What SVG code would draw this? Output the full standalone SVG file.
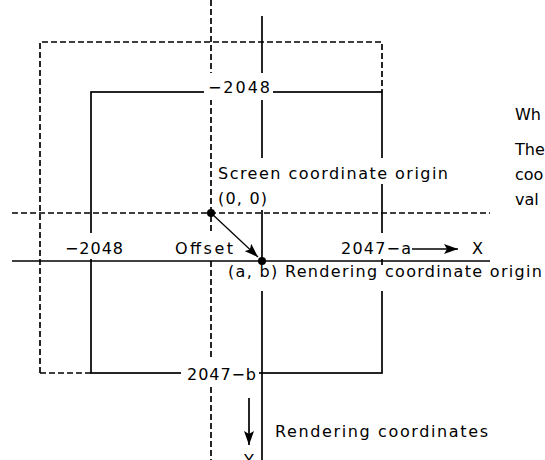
<svg xmlns="http://www.w3.org/2000/svg" width="545" height="460" viewBox="0 0 545 460">
  <style>
    .solid { stroke: #000; stroke-width: 1.7; fill: none; }
    .dash { stroke: #000; stroke-width: 1.7; fill: none; stroke-dasharray: 6 3; }
    .mask { fill: #fff; stroke: none; }
    text { font-family: "DejaVu Sans", "Liberation Sans", sans-serif; font-size: 16px; fill: #000; }
    .thin { stroke: #000; stroke-width: 1.3; fill: none; }
  </style>
  <defs>
    <marker id="head" viewBox="0 0 14 10" refX="14" refY="5" markerWidth="14" markerHeight="10" markerUnits="userSpaceOnUse" orient="auto">
      <path d="M0,0 L14,5 L0,10 L3,5 Z" fill="#000"/>
    </marker>
  </defs>
  <rect width="545" height="460" fill="#fff"/>

  <!-- screen coordinate frame (dashed) -->
  <g id="screen-frame">
    <path class="dash" d="M40,373 V42 H382 V92"/>
    <path class="dash" d="M40,373 H91"/>
    <path class="dash" d="M211,0 V460"/>
    <path class="dash" d="M12,213 H490"/>
  </g>

  <!-- rendering coordinate frame (solid) -->
  <g id="render-frame">
    <rect class="solid" x="91" y="92" width="291" height="281"/>
    <path class="solid" d="M262,16 V460"/>
    <path class="solid" d="M12,261 H490"/>
  </g>

  <!-- label backgrounds that break the lines -->
  <g id="label-masks">
    <rect class="mask" x="204" y="73" width="69" height="27"/>
    <rect class="mask" x="216" y="158" width="234" height="26"/>
    <rect class="mask" x="216" y="184" width="53" height="26"/>
    <rect class="mask" x="60" y="233" width="68" height="26"/>
    <rect class="mask" x="172" y="233" width="64" height="26"/>
    <rect class="mask" x="338" y="233" width="76" height="26"/>
    <rect class="mask" x="226" y="265" width="319" height="26"/>
    <rect class="mask" x="181" y="360" width="78" height="26"/>
  </g>

  <g id="top-limit"><text x="208" y="93" textLength="62" lengthAdjust="spacing">−2048</text></g>
  <g id="screen-origin">
    <text x="218" y="179" textLength="230" lengthAdjust="spacing">Screen coordinate origin</text>
    <text x="218" y="204" textLength="49" lengthAdjust="spacing">(0, 0)</text>
    <circle cx="211" cy="213" r="4" fill="#000"/>
  </g>
  <g id="left-limit"><text x="65" y="254" textLength="58" lengthAdjust="spacing">−2048</text></g>
  <g id="offset-label"><text x="175" y="254" textLength="58" lengthAdjust="spacing">Offset</text></g>
  <g id="right-limit"><text x="341" y="254" textLength="70" lengthAdjust="spacing">2047−a</text></g>
  <g id="x-label"><text x="472" y="254">X</text></g>
  <g id="render-origin">
    <circle cx="262" cy="261" r="4" fill="#000"/>
    <text x="228" y="277" textLength="314" lengthAdjust="spacing">(a, b) Rendering coordinate origin</text>
  </g>
  <g id="bottom-limit"><text x="187" y="380" textLength="69" lengthAdjust="spacing">2047−b</text></g>
  <g id="render-caption"><text x="275" y="437" textLength="213" lengthAdjust="spacing">Rendering coordinates</text></g>
  <g id="y-label"><text x="249" y="466" text-anchor="middle">Y</text></g>
  <g id="side-note">
    <text x="515" y="120">Wh</text>
    <text x="515" y="155">The</text>
    <text x="515" y="180">coo</text>
    <text x="515" y="205">val</text>
  </g>

  <!-- connectors -->
  <g id="connectors">
    <path class="thin" d="M211,213 L258,257" marker-end="url(#head)"/>
    <path class="solid" d="M412,249 H458" marker-end="url(#head)"/>
    <path class="solid" d="M249,398 V445" marker-end="url(#head)"/>
  </g>
</svg>
